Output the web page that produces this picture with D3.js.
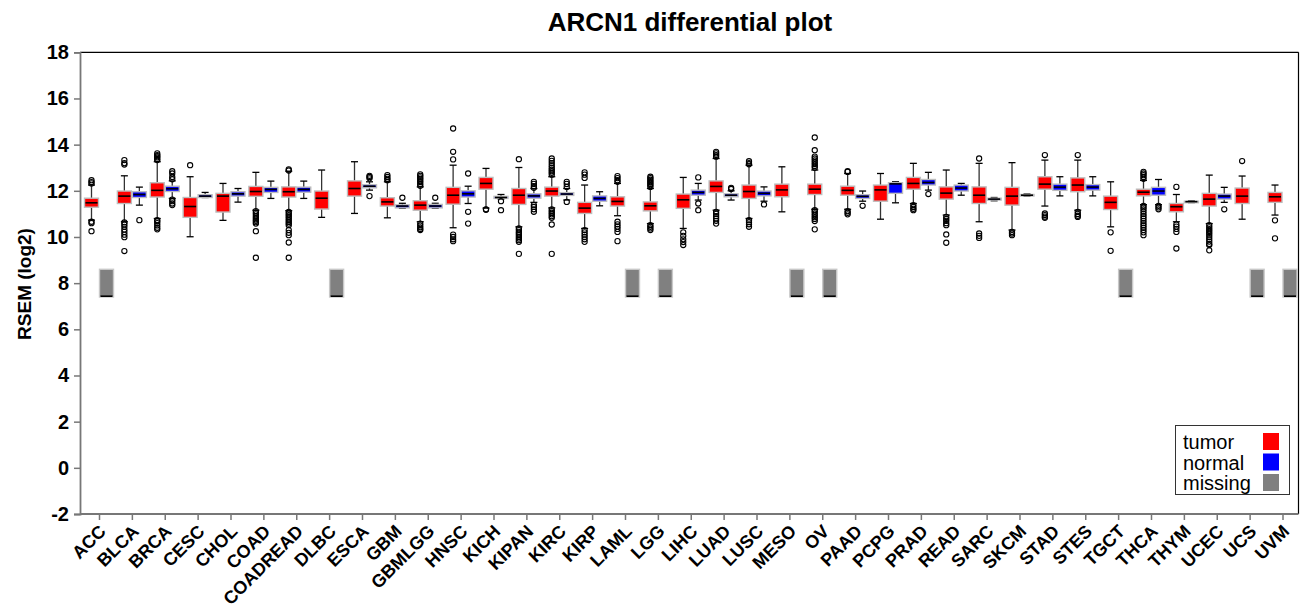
<!DOCTYPE html>
<html><head><meta charset="utf-8">
<script src="https://cdn.jsdelivr.net/npm/d3@7"></script>
<style>body{margin:0;background:#fff;}svg{display:block;font-family:"Liberation Sans",Arial,sans-serif;}</style>
</head><body>
<svg id="chart" width="1302" height="608"></svg>
<script>
const categories = ["ACC","BLCA","BRCA","CESC","CHOL","COAD","COADREAD","DLBC","ESCA","GBM","GBMLGG","HNSC","KICH","KIPAN","KIRC","KIRP","LAML","LGG","LIHC","LUAD","LUSC","MESO","OV","PAAD","PCPG","PRAD","READ","SARC","SKCM","STAD","STES","TGCT","THCA","THYM","UCEC","UCS","UVM"];
// [lower whisker, q1, median, q3, upper whisker]
const tumorStats = [
 [10.73,11.29,11.48,11.68,12.25],[10.66,11.45,11.77,11.99,12.65],[10.8,11.73,12.02,12.35,13.26],[10.01,10.85,11.32,11.71,12.61],
 [10.72,11.08,11.77,11.89,12.32],[11.16,11.76,11.97,12.19,12.8],[11.14,11.73,11.96,12.17,12.85],[10.85,11.21,11.68,11.99,12.9],
 [11.02,11.77,12.1,12.43,13.26],[10.83,11.34,11.52,11.7,12.39],[10.66,11.16,11.38,11.57,12.17],[10.4,11.42,11.81,12.15,13.11],
 [11.25,12.07,12.32,12.58,12.97],[10.44,11.41,11.81,12.1,13.01],[11.26,11.77,11.99,12.16,12.61],[10.37,11.02,11.25,11.5,12.25],
 [10.92,11.34,11.54,11.74,12.32],[10.58,11.13,11.35,11.52,12.1],[10.37,11.24,11.61,11.86,12.58],[11.16,11.93,12.19,12.43,13.4],
 [10.8,11.67,11.97,12.25,13.11],[11.09,11.74,12.04,12.29,13.04],[11.2,11.84,12.07,12.29,12.9],[11.2,11.81,12.02,12.2,12.75],
 [10.77,11.55,12.04,12.25,12.75],[11.45,12.07,12.32,12.58,13.19],[10.95,11.64,11.9,12.17,12.9],[10.66,11.45,11.81,12.17,13.19],
 [10.3,11.38,11.77,12.15,13.22],[11.34,12.07,12.29,12.61,13.33],[11.16,11.96,12.25,12.56,13.33],[10.44,11.19,11.5,11.77,12.39],
 [11.4,11.78,11.94,12.07,12.45],[10.66,11.09,11.31,11.45,11.84],[10.58,11.34,11.64,11.89,12.68],[10.77,11.45,11.77,12.12,12.64],
 [10.95,11.5,11.74,11.93,12.25]
];
const tumorOutliers = [
 [12.46,12.38,12.32,10.66,10.6,10.25],
 [13.33,13.2,13.14,10.63,10.54,10.44,10.32,10.22,10.1,9.99,9.39],
 [13.62,13.55,13.5,13.45,13.38,13.33,10.73,10.68,10.6,10.5,10.4,10.33],
 [13.11],
 [],
 [11.12,11.05,10.98,10.9,10.83,10.76,10.7,10.64,10.58,10.25,9.1],
 [12.93,12.88,11.09,11.02,10.95,10.88,10.8,10.72,10.65,10.58,10.51,10.3,10.18,10.08,9.76,9.1],
 [],
 [],
 [12.68,12.6,12.52,12.46],
 [12.71,12.65,12.58,12.52,12.45,12.38,12.3,12.22,10.58,10.5,10.42,10.35,10.3],
 [14.7,13.69,13.36,10.1,10.0,9.9,9.82],
 [11.2,11.18],
 [13.37,10.37,10.3,10.22,10.15,10.08,10.0,9.93,9.86,9.79,9.27],
 [13.4,13.3,13.2,13.1,13.0,12.92,12.85,12.78,12.7,11.2,11.12,11.05,10.98,10.9,10.83,10.54,9.27],
 [12.8,12.7,12.56,10.3,10.2,10.1,10.0,9.9,9.79],
 [12.64,12.55,12.46,12.39,10.66,10.55,10.45,10.35,10.22,9.82],
 [12.61,12.55,12.48,12.42,12.36,12.3,12.24,12.17,10.51,10.44,10.37,10.3],
 [10.2,10.05,9.9,9.78,9.65],
 [13.69,13.62,13.55,13.48,11.09,11.0,10.9,10.8,10.7,10.58],
 [13.28,13.2,13.15,10.73,10.64,10.55,10.44],
 [],
 [14.31,13.76,13.48,13.4,13.32,13.24,13.16,13.08,13.0,11.16,11.1,11.02,10.94,10.86,10.78,10.69,10.33],
 [12.85,12.82,11.12,11.05,10.98],
 [],
 [11.38,11.3,11.22,11.16],
 [10.87,10.78,10.7,10.6,10.51,10.11,9.75],
 [13.4,10.15,10.05,9.96],
 [10.22,10.15,10.08],
 [13.55,11.02,10.95,10.88,10.83],
 [13.55,11.09,11.0,10.92,10.87],
 [10.2,9.4],
 [12.82,12.75,12.68,12.6,12.52,11.35,11.28,11.2,11.1,11.0,10.9,10.8,10.7,10.6,10.5,10.4,10.3,10.2,10.08],
 [12.17,10.54,10.45,10.35,10.22,9.5],
 [10.51,10.42,10.34,10.26,10.18,10.1,10.0,9.9,9.8,9.7,9.65,9.42],
 [13.29],
 [10.72,9.94]
];
// null = missing normal samples
const normalStats = [
 null,[11.38,11.71,11.84,11.96,12.16],[11.67,11.97,12.09,12.2,12.43],[11.71,11.71,11.77,11.83,11.93],
 [11.51,11.77,11.87,11.96,12.1],[11.67,11.93,12.06,12.15,12.42],[11.67,11.94,12.06,12.16,12.42],null,
 [12.03,12.13,12.2,12.26,12.39],[11.24,11.26,11.34,11.39,11.46],[11.24,11.26,11.34,11.41,11.46],[11.45,11.73,11.87,12.0,12.2],
 [11.65,11.67,11.71,11.76,11.84],[11.5,11.68,11.78,11.87,12.1],[11.6,11.8,11.86,11.92,12.1],[11.35,11.55,11.67,11.78,11.96],
 null,null,[11.6,11.81,11.93,12.03,12.32],[11.6,11.74,11.81,11.87,12.0],
 [11.55,11.78,11.89,11.99,12.17],null,null,[11.55,11.67,11.76,11.83,11.99],
 [11.48,11.89,12.3,12.35,12.39],[12.03,12.25,12.36,12.49,12.8],[11.81,11.99,12.12,12.25,12.32],[11.57,11.6,11.64,11.68,11.71],
 [11.76,11.78,11.81,11.84,11.86],[11.78,12.02,12.16,12.29,12.61],[11.78,12.03,12.16,12.27,12.61],null,
 [11.4,11.81,11.99,12.15,12.49],[11.49,11.5,11.53,11.55,11.57],[11.5,11.64,11.77,11.86,12.15],null,
 null
];
const normalOutliers = [
 [],[10.73],[12.85,12.75,12.6,12.5,11.62,11.55,11.45,11.38],[],
 [],[],[],[],
 [12.65,12.6,12.54,11.77],[11.7],[11.7],[12.75,11.09,10.58],
 [11.55,11.16],[12.39,12.3,12.2,12.13,11.38,11.3,11.2,11.09],[12.39,12.3,12.17,11.52],[],
 [],[],[12.58,11.45,11.16],[12.13,12.08],
 [11.41],[],[],[11.35],
 [],[11.86],[],[],
 [],[],[],[],
 [11.35,11.28,11.2],[],[11.2],[],
 []
];
const missingBox = [7.4, 7.4, 8.6]; // q1, median, q3 of placeholder box
const yTicks = [-2,0,2,4,6,8,10,12,14,16,18];
const legendItems = [["tumor","#ff0000"],["normal","#0000ff"],["missing","#808080"]];

const svg = d3.select("#chart");
const L = 80, R = 1298.5, T = 52.3, B = 514;
const x = d3.scalePoint().domain(categories).range([99, 1282.5]);
const y = d3.scaleLinear().domain([-2, 18]).range([B, T]);
const bw = 14, off = 7.5, cap = 7;

// frame top/right
svg.append("line").attr("x1",L).attr("x2",R).attr("y1",T).attr("y2",T).attr("stroke","#000").attr("stroke-width",1.2);
svg.append("line").attr("x1",R).attr("x2",R).attr("y1",T).attr("y2",B).attr("stroke","#000").attr("stroke-width",1.2);

// y axis
const ya = svg.append("g").attr("transform",`translate(${L},0)`)
  .call(d3.axisLeft(y).tickValues(yTicks).tickSize(6).tickPadding(5).tickFormat(d3.format("d")));
ya.select(".domain").attr("stroke","#777").attr("stroke-width",1.8);
ya.selectAll(".tick line").attr("stroke","#777").attr("stroke-width",1.5);
ya.selectAll(".tick text").attr("font-size",20).attr("font-weight","bold").attr("fill","#000").attr("font-family","Liberation Sans, Arial")
  .text(d=>d<0?"-"+Math.abs(d):d);

// x axis
const xa = svg.append("g").attr("transform",`translate(0,${B})`)
  .call(d3.axisBottom(x).tickSize(6).tickPadding(4));
xa.select(".domain").attr("d",`M${L},0H${R}`).attr("stroke","#777").attr("stroke-width",1.8);
xa.selectAll(".tick line").attr("stroke","#777").attr("stroke-width",1.5);
xa.selectAll(".tick text").attr("font-size",18).attr("font-weight","bold").attr("fill","#000")
  .attr("font-family","Liberation Sans, Arial")
  .attr("x",0).attr("y",0)
  .attr("text-anchor","end").attr("dy","0.35em")
  .attr("transform","translate(3,14) rotate(-45)");

function drawBox(g, cx, s, color, outs){
  const [lw,q1,md,q3,uw] = s;
  g.append("line").attr("x1",cx).attr("x2",cx).attr("y1",y(uw)).attr("y2",y(q3)).attr("stroke","#333").attr("stroke-width",1.3);
  g.append("line").attr("x1",cx).attr("x2",cx).attr("y1",y(q1)).attr("y2",y(lw)).attr("stroke","#333").attr("stroke-width",1.3);
  g.append("line").attr("x1",cx-cap/2).attr("x2",cx+cap/2).attr("y1",y(uw)).attr("y2",y(uw)).attr("stroke","#000").attr("stroke-width",1.3);
  g.append("line").attr("x1",cx-cap/2).attr("x2",cx+cap/2).attr("y1",y(lw)).attr("y2",y(lw)).attr("stroke","#000").attr("stroke-width",1.3);
  g.append("rect").attr("x",cx-bw/2).attr("y",y(q3)).attr("width",bw).attr("height",Math.max(1.5,y(q1)-y(q3)))
    .attr("fill",color).attr("stroke","#bdbdbd").attr("stroke-width",1.4);
  g.append("line").attr("x1",cx-bw/2+1).attr("x2",cx+bw/2-1).attr("y1",y(md)).attr("y2",y(md)).attr("stroke","#000").attr("stroke-width",1.6);
  g.selectAll(null).data(outs).enter().append("circle").attr("cx",cx).attr("cy",d=>y(d)).attr("r",2.6)
    .attr("fill","none").attr("stroke","#000").attr("stroke-width",1.1);
}

const gb = svg.append("g");
categories.forEach((c,i)=>{
  const cx = x(c);
  drawBox(gb, cx-off, tumorStats[i], "#ff0000", tumorOutliers[i]);
  if(normalStats[i]) drawBox(gb, cx+off, normalStats[i], "#0000ff", normalOutliers[i]);
  else {
    const nx = cx+off;
    gb.append("rect").attr("x",nx-bw/2).attr("y",y(missingBox[2])).attr("width",bw).attr("height",y(missingBox[0])-y(missingBox[2]))
      .attr("fill","#808080").attr("stroke","#c8c8c8").attr("stroke-width",1.4);
    gb.append("line").attr("x1",nx-bw/2+1).attr("x2",nx+bw/2-1).attr("y1",y(missingBox[1])-0.8).attr("y2",y(missingBox[1])-0.8).attr("stroke","#000").attr("stroke-width",1.6);
  }
});

// title
svg.append("text").attr("x",690).attr("y",31).attr("text-anchor","middle").attr("font-size",26).attr("font-weight","bold").text("ARCN1 differential plot");
// y label
svg.append("text").attr("transform","translate(31,284) rotate(-90)").attr("text-anchor","middle").attr("font-size",19).attr("font-weight","bold").text("RSEM (log2)");

// legend
const lg = svg.append("g");
lg.append("rect").attr("x",1175.5).attr("y",425.5).attr("width",114).attr("height",69).attr("fill","#fff").attr("stroke","#333").attr("stroke-width",1);
legendItems.forEach((d,i)=>{
  lg.append("text").attr("x",1183).attr("y",449+i*20.5).attr("font-size",20).attr("fill","#000").text(d[0]);
  lg.append("rect").attr("x",1263).attr("y",433+i*20.5).attr("width",16).attr("height",17).attr("fill",d[1]);
});
</script>
</body></html>
